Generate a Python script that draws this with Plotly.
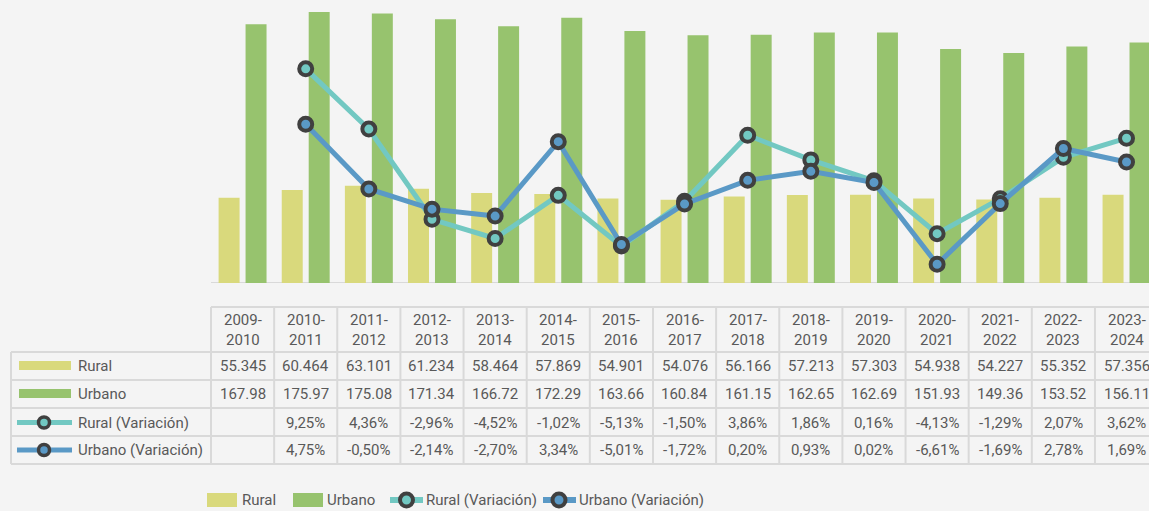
import plotly.graph_objects as go

# ---------------- data ----------------
categories = ["2009-2010", "2010-2011", "2011-2012", "2012-2013", "2013-2014",
              "2014-2015", "2015-2016", "2016-2017", "2017-2018", "2018-2019",
              "2019-2020", "2020-2021", "2021-2022", "2022-2023", "2023-2024"]
rural = [55.345, 60.464, 63.101, 61.234, 58.464, 57.869, 54.901, 54.076,
         56.166, 57.213, 57.303, 54.938, 54.227, 55.352, 57.356]
urbano = [167.98, 175.97, 175.08, 171.34, 166.72, 172.29, 163.66, 160.84,
          161.15, 162.65, 162.69, 151.93, 149.36, 153.52, 156.11]
rural_var = [None, 9.25, 4.36, -2.96, -4.52, -1.02, -5.13, -1.50,
             3.86, 1.86, 0.16, -4.13, -1.29, 2.07, 3.62]
urbano_var = [None, 4.75, -0.50, -2.14, -2.70, 3.34, -5.01, -1.72,
              0.20, 0.93, 0.02, -6.61, -1.69, 2.78, 1.69]
series_names = ["Rural", "Urbano", "Rural (Variación)", "Urbano (Variación)"]

# ---------------- style ----------------
W, H = 1149, 511
BG = "#f4f4f4"
C_RURAL = "#d9d97c"
C_URB = "#97c36e"
C_RVAR = "#72c8c2"
C_UVAR = "#5a99c6"
C_RING = "#404040"
C_TXT = "#595959"
C_GRID = "#d9d9d9"
FONT = "Roboto"

def py(p):
    return 1 - p / H

def pxx(p):
    return p / W

c0, step = 242.57, 63.14
xrange_ = [-c0 / step, (W - c0) / step]
xs = list(range(len(categories)))

fig = go.Figure()
fig.add_bar(x=xs, y=rural, name=series_names[0], marker=dict(color=C_RURAL, line=dict(width=0)))
fig.add_bar(x=xs, y=urbano, name=series_names[1], marker=dict(color=C_URB, line=dict(width=0)))
for vals, col, nm in [(rural_var, C_RVAR, series_names[2]), (urbano_var, C_UVAR, series_names[3])]:
    fig.add_scatter(x=xs, y=vals, name=nm, yaxis="y2", mode="lines+markers",
                    line=dict(color=col, width=5),
                    marker=dict(size=13, color=col, line=dict(color=C_RING, width=4)),
                    cliponaxis=False)

shapes = []
annotations = []

# baseline
shapes.append(dict(type="line", xref="x", yref="y", x0=-0.5, x1=len(categories) - 0.5,
                   y0=0, y1=0, line=dict(color=C_GRID, width=2), layer="below"))

# ---------------- data table ----------------
row_y = [366, 394, 422.5, 450]
t_top, t_hdr, t_bot = 307, 352, 464
row_lines = [352, 380, 408, 436, 464]

for i in range(len(categories) + 1):
    shapes.append(dict(type="line", xref="x", yref="paper", x0=i - 0.5, x1=i - 0.5,
                       y0=py(t_top), y1=py(t_bot), line=dict(color=C_GRID, width=2)))
shapes.append(dict(type="line", xref="paper", yref="paper", x0=pxx(11), x1=pxx(11),
                   y0=py(t_hdr), y1=py(t_bot), line=dict(color=C_GRID, width=2)))
shapes.append(dict(type="line", xref="x", yref="paper", x0=-0.5, x1=len(categories),
                   y0=py(t_top), y1=py(t_top), line=dict(color=C_GRID, width=2)))
for yy in row_lines:
    shapes.append(dict(type="line", xref="paper", yref="paper", x0=pxx(11), x1=1,
                       y0=py(yy), y1=py(yy), line=dict(color=C_GRID, width=2)))

fmt_rows = [
    [f"{v:.3f}" for v in rural],
    [f"{v:.2f}" for v in urbano],
    ["" if v is None else f"{v:.2f}%".replace(".", ",") for v in rural_var],
    ["" if v is None else f"{v:.2f}%".replace(".", ",") for v in urbano_var],
]

for i, cat in enumerate(categories):
    a, b = cat.split("-")
    annotations.append(dict(x=i, y=py(330), xref="x", yref="paper", text=f"{a}-<br>{b}",
                            showarrow=False, font=dict(family=FONT, size=15, color=C_TXT),
                            xanchor="center", yanchor="middle"))
    for r, ry in enumerate(row_y):
        annotations.append(dict(x=i, y=py(ry), xref="x", yref="paper", text=fmt_rows[r][i],
                                showarrow=False, font=dict(family=FONT, size=15, color=C_TXT),
                                xanchor="center", yanchor="middle"))

for r, ry in enumerate(row_y):
    annotations.append(dict(x=pxx(76), y=py(ry), xref="paper", yref="paper", text=series_names[r],
                            showarrow=False, font=dict(family=FONT, size=15, color=C_TXT),
                            xanchor="left", yanchor="middle"))

def rect(x0, x1, y0, y1, col):
    shapes.append(dict(type="rect", xref="paper", yref="paper", x0=pxx(x0), x1=pxx(x1),
                       y0=py(y1), y1=py(y0), fillcolor=col, line=dict(width=0)))

def lineswatch(x0, x1, yc, col, mx, r, lw, rw):
    shapes.append(dict(type="line", xref="paper", yref="paper", x0=pxx(x0), x1=pxx(x1),
                       y0=py(yc), y1=py(yc), line=dict(color=col, width=lw)))
    shapes.append(dict(type="circle", xref="paper", yref="paper", x0=pxx(mx - r), x1=pxx(mx + r),
                       y0=py(yc + r), y1=py(yc - r), fillcolor=col, line=dict(color=C_RING, width=rw)))

rect(19, 71, 361, 370, C_RURAL)
rect(19, 71, 389, 398, C_URB)
lineswatch(17, 72, row_y[2], C_RVAR, 44, 5.5, 5, 3.5)
lineswatch(17, 72, row_y[3], C_UVAR, 44, 5.5, 5, 3.5)

# ---------------- bottom legend ----------------
LY = 500
rect(207, 237, 493, 507, C_RURAL)
rect(293, 323, 493, 507, C_URB)
lineswatch(390, 423, LY, C_RVAR, 406.5, 6.5, 6, 4)
lineswatch(543, 576, LY, C_UVAR, 559, 6.5, 6, 4)
for xpos, txt in [(240, series_names[0]), (325, series_names[1]),
                  (424, series_names[2]), (577, series_names[3])]:
    annotations.append(dict(x=pxx(xpos), y=py(LY), xref="paper", yref="paper", text=txt,
                            showarrow=False, font=dict(family=FONT, size=15, color=C_TXT),
                            xanchor="left", yanchor="middle"))

fig.update_layout(
    width=W, height=H,
    margin=dict(l=0, r=0, t=0, b=0),
    paper_bgcolor=BG, plot_bgcolor=BG,
    showlegend=False,
    barmode="group", bargap=0.146, bargroupgap=0.222,
    xaxis=dict(domain=[0, 1], range=xrange_, visible=False, fixedrange=True),
    yaxis=dict(domain=[py(283), 1], range=[0, 283 / 1.54], visible=False),
    yaxis2=dict(overlaying="y", range=[-(283 - 182.8) / 12.32, 182.8 / 12.32], visible=False),
    shapes=shapes,
    annotations=annotations,
)

fig.write_html("out.html", config={"displayModeBar": False},
               post_script="document.body.style.margin='0';document.body.style.overflow='hidden';")
